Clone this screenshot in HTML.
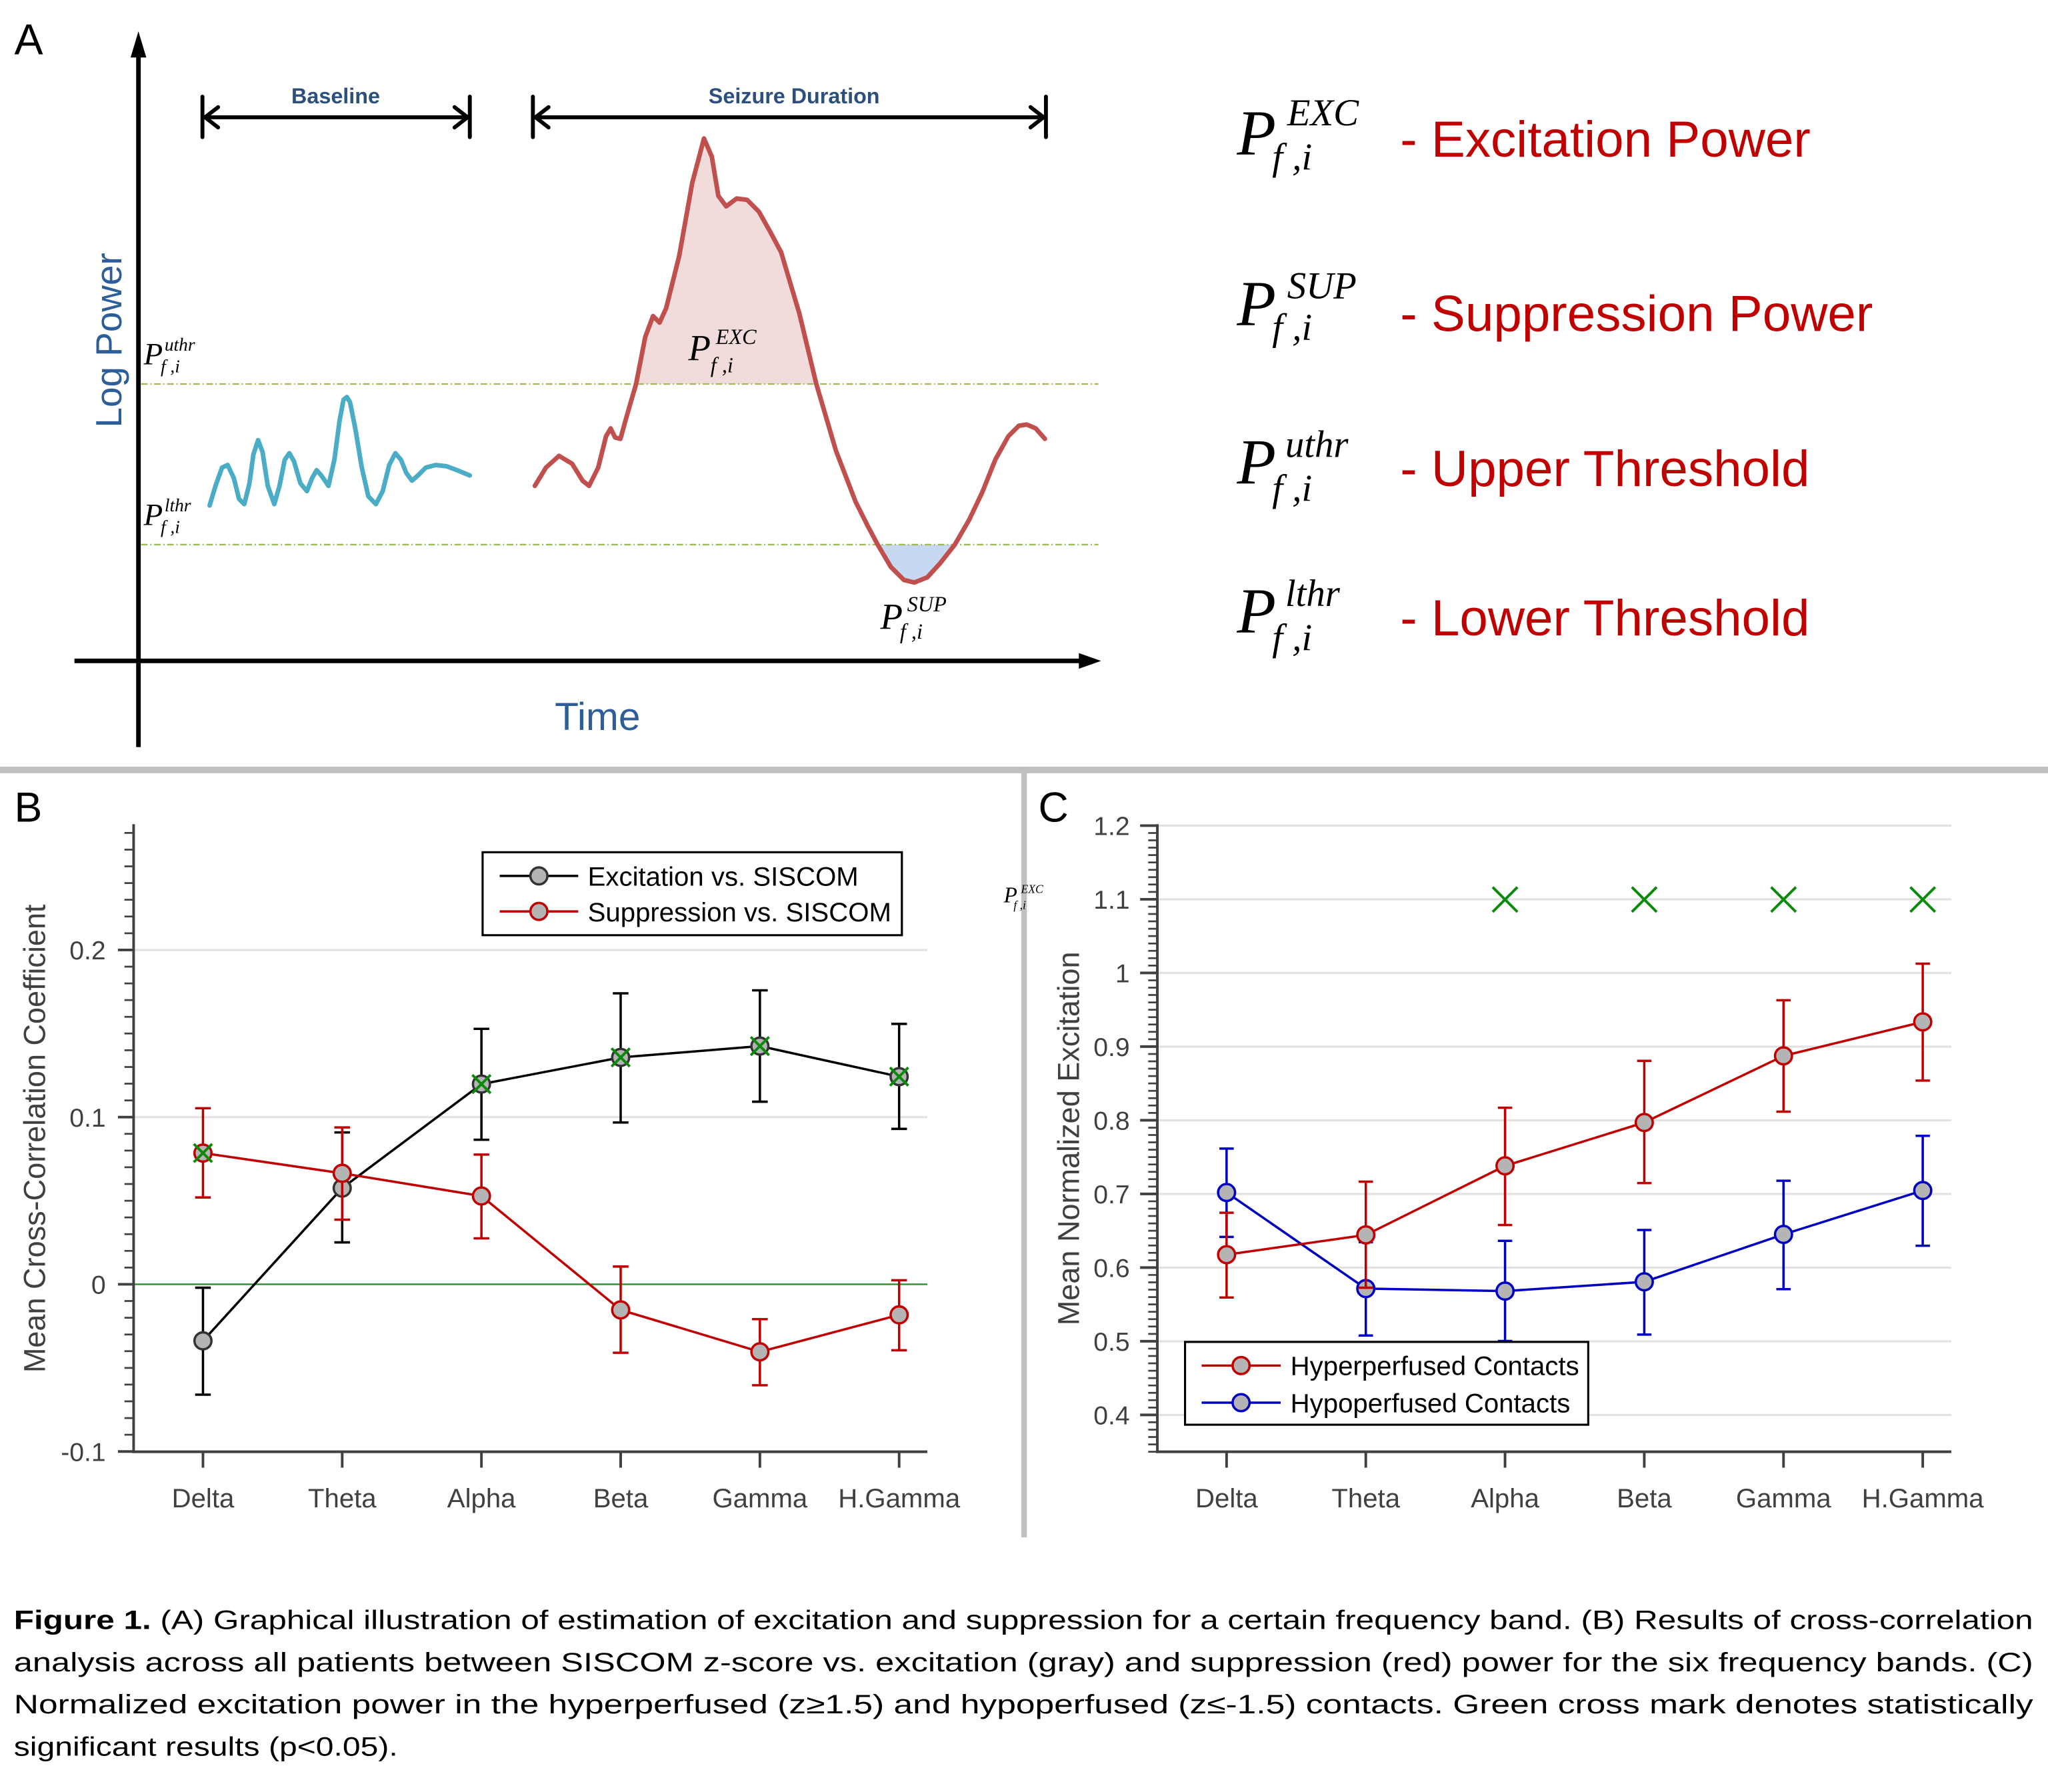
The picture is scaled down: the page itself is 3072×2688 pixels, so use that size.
<!DOCTYPE html>
<html><head><meta charset="utf-8"><style>html,body{margin:0;padding:0;background:#fff;overflow:hidden}svg{display:block}</style></head>
<body>
<svg width="3072" height="2688" viewBox="0 0 1568 1372" xmlns="http://www.w3.org/2000/svg" font-family="'Liberation Sans', Arial, sans-serif">
<rect x="0" y="0" width="1568" height="1372" fill="#fff"/>

<!-- ============ PANEL A ============ -->
<text x="11" y="41.5" font-size="33" fill="#000">A</text>

<!-- fills -->
<polygon points="487,294 494,258 500,242 505,247 510,236 520,196 530,140 539,106 545,120 550,150 556,158 564,152 572,153 581,162 590,178 598,193 612,240 625,294" fill="#f2dcdb"/>
<polygon points="672,417 682,434 692,444 700,446 710,442 720,431 731,417" fill="#c6d9f1"/>

<!-- threshold lines -->
<line x1="108" y1="294" x2="841" y2="294" stroke="#9bbb59" stroke-width="1.2" stroke-dasharray="5 2 1 2"/>
<line x1="108" y1="417" x2="841" y2="417" stroke="#9bbb59" stroke-width="1.2" stroke-dasharray="5 2 1 2"/>

<!-- axes -->
<line x1="106" y1="38" x2="106" y2="572" stroke="#000" stroke-width="3.5"/>
<polygon points="100,44 106,24 112,44" fill="#000"/>
<line x1="57" y1="506" x2="830" y2="506" stroke="#000" stroke-width="3.5"/>
<polygon points="826,500 843,506 826,512" fill="#000"/>

<!-- brackets -->
<g stroke="#000" stroke-width="3" fill="none" stroke-linecap="round">
  <line x1="155" y1="74" x2="155" y2="105"/>
  <line x1="359.7" y1="74" x2="359.7" y2="105"/>
  <line x1="157" y1="89.8" x2="358" y2="89.8"/>
  <polyline points="167,82 157,89.8 167,97.6"/>
  <polyline points="348,82 358,89.8 348,97.6"/>
  <line x1="408" y1="74" x2="408" y2="105"/>
  <line x1="800.8" y1="74" x2="800.8" y2="105"/>
  <line x1="410" y1="89.8" x2="799" y2="89.8"/>
  <polyline points="420,82 410,89.8 420,97.6"/>
  <polyline points="789,82 799,89.8 789,97.6"/>
</g>
<text x="257" y="79" font-size="16.5" font-weight="bold" fill="#2c4f7c" text-anchor="middle">Baseline</text>
<text x="608" y="79" font-size="16.5" font-weight="bold" fill="#2c4f7c" text-anchor="middle">Seizure Duration</text>

<!-- curves -->
<polyline fill="none" stroke="#4bacc6" stroke-width="3.5" stroke-linejoin="round" stroke-linecap="round"
 points="160.5,387 165,372 170,358 174.3,356 179,366 183,382 187,386 191,370 194,348 197.6,337 201,346 205,372 210,386 214,372 218,352 221.5,347 225,353 230,370 235,376 239,366 242.4,360 246,364 251.5,372 256,352 260,322 263,306 265.6,304 268,308 272,328 277,358 282,380 287.8,386 293,376 298,356 302.7,347 307,352 311,362 315.4,368 320,364 326,358 333.7,356 342,357 350,360 359.7,364"/>
<polyline fill="none" stroke="#c0504d" stroke-width="3.5" stroke-linejoin="round" stroke-linecap="round"
 points="409.5,372 418,358 428,349 438,355 446,368 451,372 458,358 464,334 467.5,328 471,335 475,336 480,318 487,294 494,258 500,242 505,247 510,236 520,196 530,140 539,106 545,120 550,150 556,158 564,152 572,153 581,162 590,178 598,193 612,240 625,294 640,345 655,384 664,402 672,417 682,434 692,444 700,446 710,442 720,431 731,417 742,398 752,377 762,352 772,334 780,326 786,325 793,328 800,336"/>

<!-- axis labels A -->
<text transform="translate(93,260.5) rotate(-90)" font-size="28" fill="#2e5e9a" text-anchor="middle">Log Power</text>
<text x="457.5" y="559" font-size="30" fill="#2e5e9a" text-anchor="middle">Time</text>

<!-- small P labels -->
<g font-family="'Liberation Serif', 'Times New Roman', serif" font-style="italic" fill="#000">
  <text x="110" y="279" font-size="24">P</text>
  <text x="126" y="268.5" font-size="14">uthr</text>
  <text x="123" y="285" font-size="14">f ,i</text>
  <text x="110" y="402" font-size="24">P</text>
  <text x="126" y="391.5" font-size="14">lthr</text>
  <text x="123" y="408" font-size="14">f ,i</text>
  <text x="527" y="275.6" font-size="28">P</text>
  <text x="548" y="263.5" font-size="16.5">EXC</text>
  <text x="544" y="285" font-size="16.5">f ,i</text>
  <text x="674" y="481.3" font-size="28">P</text>
  <text x="694.5" y="468" font-size="16.5">SUP</text>
  <text x="689" y="489" font-size="16.5">f ,i</text>
</g>

<!-- right legend A -->
<g font-family="'Liberation Serif', 'Times New Roman', serif" font-style="italic" fill="#000">
  <text x="947" y="118.5" font-size="49">P</text>
  <text x="985.5" y="96" font-size="29">EXC</text>
  <text x="974" y="130" font-size="29">f ,i</text>
  <text x="947" y="249" font-size="49">P</text>
  <text x="985.5" y="228.3" font-size="29">SUP</text>
  <text x="974" y="260.4" font-size="29">f ,i</text>
  <text x="947" y="370.4" font-size="49">P</text>
  <text x="984" y="349.9" font-size="29">uthr</text>
  <text x="974" y="383.7" font-size="29">f ,i</text>
  <text x="947" y="484.5" font-size="49">P</text>
  <text x="984" y="464" font-size="29">lthr</text>
  <text x="974" y="497.9" font-size="29">f ,i</text>
</g>
<g font-size="39" fill="#c00000">
  <text x="1072" y="120">- Excitation Power</text>
  <text x="1072" y="253.5">- Suppression Power</text>
  <text x="1072" y="372">- Upper Threshold</text>
  <text x="1072" y="486.5">- Lower Threshold</text>
</g>

<!-- separators -->
<rect x="0" y="587" width="1568" height="5" fill="#c0c0c0"/>
<rect x="781.9" y="590" width="4.3" height="587" fill="#c0c0c0"/>

<!-- stray small label (on top of separator) -->
<g font-family="'Liberation Serif', 'Times New Roman', serif" font-style="italic" fill="#000">
  <text x="768.5" y="690.8" font-size="17">P</text>
  <text x="781.7" y="683.6" font-size="9">EXC</text>
  <text x="776" y="696" font-size="9">f ,i</text>
</g>

<!-- ============ PANEL B ============ -->
<text x="11" y="629" font-size="32" fill="#000">B</text>
<g stroke="#e2e2e2" stroke-width="1.6">
  <line x1="102.3" y1="727.3" x2="710" y2="727.3"/>
  <line x1="102.3" y1="855.3" x2="710" y2="855.3"/>
</g>
<line x1="102.3" y1="983.3" x2="710" y2="983.3" stroke="#2a8f2a" stroke-width="1.2"/>
<!-- axes B -->
<g stroke="#404040" stroke-width="2" fill="none">
  <line x1="102.3" y1="631" x2="102.3" y2="1112.5"/>
  <line x1="101.3" y1="1111.5" x2="710" y2="1111.5"/>
  <line x1="90.3" y1="727.3" x2="102.3" y2="727.3"/>
  <line x1="90.3" y1="855.3" x2="102.3" y2="855.3"/>
  <line x1="90.3" y1="983.3" x2="102.3" y2="983.3"/>
  <line x1="90.3" y1="1111.3" x2="102.3" y2="1111.3"/>
  <line x1="155.4" y1="1111.5" x2="155.4" y2="1123.7"/>
  <line x1="262" y1="1111.5" x2="262" y2="1123.7"/>
  <line x1="368.6" y1="1111.5" x2="368.6" y2="1123.7"/>
  <line x1="475.2" y1="1111.5" x2="475.2" y2="1123.7"/>
  <line x1="581.8" y1="1111.5" x2="581.8" y2="1123.7"/>
  <line x1="688.4" y1="1111.5" x2="688.4" y2="1123.7"/>
</g>
<line x1="98.8" y1="1112" x2="98.8" y2="631" stroke="#404040" stroke-width="7" stroke-dasharray="1.4 11.4"/>
<g font-size="20" fill="#404040" text-anchor="end">
  <text x="81" y="734.5">0.2</text>
  <text x="81" y="862.5">0.1</text>
  <text x="81" y="990.5">0</text>
  <text x="81" y="1118.5">-0.1</text>
</g>
<g font-size="20.5" fill="#404040" text-anchor="middle">
  <text x="155.4" y="1154">Delta</text>
  <text x="262" y="1154">Theta</text>
  <text x="368.6" y="1154">Alpha</text>
  <text x="475.2" y="1154">Beta</text>
  <text x="581.8" y="1154">Gamma</text>
  <text x="688.4" y="1154">H.Gamma</text>
</g>
<text transform="translate(34.5,871.7) rotate(-90)" font-size="23" fill="#404040" text-anchor="middle">Mean Cross-Correlation Coefficient</text>

<!-- excitation series -->
<g stroke="#000" stroke-width="1.8" fill="none">
  <polyline points="155.4,1026.6 262,909.6 368.6,830 475.2,809.6 581.8,800.9 688.4,824.3"/>
  <path d="M155.4,985.9V1067.8M149.4,985.9H161.4M149.4,1067.8H161.4"/>
  <path d="M262,867V951.2M256,867H268M256,951.2H268"/>
  <path d="M368.6,787.7V872.6M362.6,787.7H374.6M362.6,872.6H374.6"/>
  <path d="M475.2,760.5V859.4M469.2,760.5H481.2M469.2,859.4H481.2"/>
  <path d="M581.8,758.2V843.5M575.8,758.2H587.8M575.8,843.5H587.8"/>
  <path d="M688.4,783.9V864.3M682.4,783.9H694.4M682.4,864.3H694.4"/>
</g>
<g fill="#b4b4b4" stroke="#333" stroke-width="1.8">
  <circle cx="155.4" cy="1026.6" r="6.5"/><circle cx="262" cy="909.6" r="6.5"/><circle cx="368.6" cy="830" r="6.5"/>
  <circle cx="475.2" cy="809.6" r="6.5"/><circle cx="581.8" cy="800.9" r="6.5"/><circle cx="688.4" cy="824.3" r="6.5"/>
</g>
<!-- suppression series -->
<g stroke="#c00000" stroke-width="1.8" fill="none">
  <polyline points="155.4,882.8 262,898.3 368.6,915.7 475.2,1002.9 581.8,1035 688.4,1006.7"/>
  <path d="M155.4,848.5V916.8M149.4,848.5H161.4M149.4,916.8H161.4"/>
  <path d="M262,863.2V933.8M256,863.2H268M256,933.8H268"/>
  <path d="M368.6,884V948.1M362.6,884H374.6M362.6,948.1H374.6"/>
  <path d="M475.2,969.7V1035.7M469.2,969.7H481.2M469.2,1035.7H481.2"/>
  <path d="M581.8,1010V1060.6M575.8,1010H587.8M575.8,1060.6H587.8"/>
  <path d="M688.4,980.2V1033.8M682.4,980.2H694.4M682.4,1033.8H694.4"/>
</g>
<g fill="#b4b4b4" stroke="#c00000" stroke-width="1.8">
  <circle cx="155.4" cy="882.8" r="6.5"/><circle cx="262" cy="898.3" r="6.5"/><circle cx="368.6" cy="915.7" r="6.5"/>
  <circle cx="475.2" cy="1002.9" r="6.5"/><circle cx="581.8" cy="1035" r="6.5"/><circle cx="688.4" cy="1006.7" r="6.5"/>
</g>
<!-- green crosses B -->
<g stroke="#0a8a0a" stroke-width="2" fill="none">
  <path d="M148.4,875.8L162.4,889.8M148.4,889.8L162.4,875.8"/>
  <path d="M361.6,823L375.6,837M361.6,837L375.6,823"/>
  <path d="M468.2,802.6L482.2,816.6M468.2,816.6L482.2,802.6"/>
  <path d="M574.8,793.9L588.8,807.9M574.8,807.9L588.8,793.9"/>
  <path d="M681.4,817.3L695.4,831.3M681.4,831.3L695.4,817.3"/>
</g>
<!-- legend B -->
<rect x="369.5" y="652.5" width="321" height="63.5" fill="#fff" stroke="#000" stroke-width="1.6"/>
<line x1="382.6" y1="670.6" x2="442.7" y2="670.6" stroke="#000" stroke-width="1.8"/>
<circle cx="412.6" cy="670.6" r="6.5" fill="#b4b4b4" stroke="#333" stroke-width="1.8"/>
<line x1="382.6" y1="697.8" x2="442.7" y2="697.8" stroke="#c00000" stroke-width="1.8"/>
<circle cx="412.6" cy="697.8" r="6.5" fill="#b4b4b4" stroke="#c00000" stroke-width="1.8"/>
<text x="450" y="678" font-size="20.5" fill="#000">Excitation vs. SISCOM</text>
<text x="450" y="705.3" font-size="20.5" fill="#000">Suppression vs. SISCOM</text>

<!-- ============ PANEL C ============ -->
<text x="795" y="629" font-size="32" fill="#000">C</text>
<g stroke="#e2e2e2" stroke-width="1.6">
  <line x1="886" y1="632.1" x2="1494" y2="632.1"/>
  <line x1="886" y1="688.5" x2="1494" y2="688.5"/>
  <line x1="886" y1="744.9" x2="1494" y2="744.9"/>
  <line x1="886" y1="801.3" x2="1494" y2="801.3"/>
  <line x1="886" y1="857.7" x2="1494" y2="857.7"/>
  <line x1="886" y1="914.1" x2="1494" y2="914.1"/>
  <line x1="886" y1="970.5" x2="1494" y2="970.5"/>
  <line x1="886" y1="1026.9" x2="1494" y2="1026.9"/>
  <line x1="886" y1="1083.3" x2="1494" y2="1083.3"/>
</g>
<g stroke="#404040" stroke-width="2" fill="none">
  <line x1="886.1" y1="631" x2="886.1" y2="1112.5"/>
  <line x1="885.1" y1="1111.5" x2="1494" y2="1111.5"/>
  <line x1="872.9" y1="632.1" x2="886" y2="632.1"/>
  <line x1="872.9" y1="688.5" x2="886" y2="688.5"/>
  <line x1="872.9" y1="744.9" x2="886" y2="744.9"/>
  <line x1="872.9" y1="801.3" x2="886" y2="801.3"/>
  <line x1="872.9" y1="857.7" x2="886" y2="857.7"/>
  <line x1="872.9" y1="914.1" x2="886" y2="914.1"/>
  <line x1="872.9" y1="970.5" x2="886" y2="970.5"/>
  <line x1="872.9" y1="1026.9" x2="886" y2="1026.9"/>
  <line x1="872.9" y1="1083.3" x2="886" y2="1083.3"/>
  <line x1="939.1" y1="1111.5" x2="939.1" y2="1123.7"/>
  <line x1="1045.7" y1="1111.5" x2="1045.7" y2="1123.7"/>
  <line x1="1152.3" y1="1111.5" x2="1152.3" y2="1123.7"/>
  <line x1="1258.9" y1="1111.5" x2="1258.9" y2="1123.7"/>
  <line x1="1365.5" y1="1111.5" x2="1365.5" y2="1123.7"/>
  <line x1="1472.1" y1="1111.5" x2="1472.1" y2="1123.7"/>
</g>
<line x1="882.6" y1="1112.2" x2="882.6" y2="631" stroke="#404040" stroke-width="7" stroke-dasharray="1.4 4.24"/>
<g font-size="20" fill="#404040" text-anchor="end">
  <text x="865" y="639.3">1.2</text>
  <text x="865" y="695.7">1.1</text>
  <text x="865" y="752.1">1</text>
  <text x="865" y="808.5">0.9</text>
  <text x="865" y="864.9">0.8</text>
  <text x="865" y="921.3">0.7</text>
  <text x="865" y="977.7">0.6</text>
  <text x="865" y="1034.1">0.5</text>
  <text x="865" y="1090.5">0.4</text>
</g>
<g font-size="20.5" fill="#404040" text-anchor="middle">
  <text x="939.1" y="1154">Delta</text>
  <text x="1045.7" y="1154">Theta</text>
  <text x="1152.3" y="1154">Alpha</text>
  <text x="1258.9" y="1154">Beta</text>
  <text x="1365.5" y="1154">Gamma</text>
  <text x="1472.1" y="1154">H.Gamma</text>
</g>
<text transform="translate(826,871.7) rotate(-90)" font-size="23" fill="#404040" text-anchor="middle">Mean Normalized Excitation</text>

<!-- hypoperfused (blue) -->
<g stroke="#0000c0" stroke-width="1.8" fill="none">
  <polyline points="939.1,913 1045.7,986.6 1152.3,988.5 1258.9,981.4 1365.5,945.1 1472.1,911.5"/>
  <path d="M939.1,879.4V947M933.6,879.4H944.6M933.6,947H944.6"/>
  <path d="M1045.7,951V1022.5M1040.2,951H1051.2M1040.2,1022.5H1051.2"/>
  <path d="M1152.3,950V1026.7M1146.8,950H1157.8M1146.8,1026.7H1157.8"/>
  <path d="M1258.9,941.7V1021.8M1253.4,941.7H1264.4M1253.4,1021.8H1264.4"/>
  <path d="M1365.5,904V987M1360,904H1371M1360,987H1371"/>
  <path d="M1472.1,869.6V953.8M1466.6,869.6H1477.6M1466.6,953.8H1477.6"/>
</g>
<g fill="#b4b4b4" stroke="#0000c0" stroke-width="1.8">
  <circle cx="939.1" cy="913" r="6.5"/><circle cx="1045.7" cy="986.6" r="6.5"/><circle cx="1152.3" cy="988.5" r="6.5"/>
  <circle cx="1258.9" cy="981.4" r="6.5"/><circle cx="1365.5" cy="945.1" r="6.5"/><circle cx="1472.1" cy="911.5" r="6.5"/>
</g>
<!-- hyperperfused (red) -->
<g stroke="#c00000" stroke-width="1.8" fill="none">
  <polyline points="939.1,960.6 1045.7,945.5 1152.3,892.6 1258.9,859.4 1365.5,808.4 1472.1,782.4"/>
  <path d="M939.1,928.5V993.4M933.6,928.5H944.6M933.6,993.4H944.6"/>
  <path d="M1045.7,904.7V985.9M1040.2,904.7H1051.2M1040.2,985.9H1051.2"/>
  <path d="M1152.3,848.1V937.9M1146.8,848.1H1157.8M1146.8,937.9H1157.8"/>
  <path d="M1258.9,812.2V905.8M1253.4,812.2H1264.4M1253.4,905.8H1264.4"/>
  <path d="M1365.5,765.8V851.1M1360,765.8H1371M1360,851.1H1371"/>
  <path d="M1472.1,737.8V827.3M1466.6,737.8H1477.6M1466.6,827.3H1477.6"/>
</g>
<g fill="#b4b4b4" stroke="#c00000" stroke-width="1.8">
  <circle cx="939.1" cy="960.6" r="6.5"/><circle cx="1045.7" cy="945.5" r="6.5"/><circle cx="1152.3" cy="892.6" r="6.5"/>
  <circle cx="1258.9" cy="859.4" r="6.5"/><circle cx="1365.5" cy="808.4" r="6.5"/><circle cx="1472.1" cy="782.4" r="6.5"/>
</g>
<!-- green crosses C -->
<g stroke="#0a8a0a" stroke-width="2" fill="none">
  <path d="M1142.8,679.2L1161.8,698.2M1142.8,698.2L1161.8,679.2"/>
  <path d="M1249.4,679.2L1268.4,698.2M1249.4,698.2L1268.4,679.2"/>
  <path d="M1356,679.2L1375,698.2M1356,698.2L1375,679.2"/>
  <path d="M1462.6,679.2L1481.6,698.2M1462.6,698.2L1481.6,679.2"/>
</g>
<!-- legend C -->
<rect x="907.3" y="1027.4" width="308.7" height="63.4" fill="#fff" stroke="#000" stroke-width="1.6"/>
<line x1="920" y1="1045.5" x2="980.5" y2="1045.5" stroke="#c00000" stroke-width="1.8"/>
<circle cx="950.2" cy="1045.5" r="6.5" fill="#b4b4b4" stroke="#c00000" stroke-width="1.8"/>
<line x1="920" y1="1073.9" x2="980.5" y2="1073.9" stroke="#0000c0" stroke-width="1.8"/>
<circle cx="950.2" cy="1073.9" r="6.5" fill="#b4b4b4" stroke="#0000c0" stroke-width="1.8"/>
<text x="988" y="1052.8" font-size="20.5" fill="#000">Hyperperfused Contacts</text>
<text x="988" y="1081.2" font-size="20.5" fill="#000">Hypoperfused Contacts</text>

<!-- ============ CAPTION ============ -->
<g font-size="20.5" fill="#000">
  <text x="10.6" y="1247.2" textLength="1546" lengthAdjust="spacingAndGlyphs"><tspan font-weight="bold">Figure 1.</tspan> (A) Graphical illustration of estimation of excitation and suppression for a certain frequency band. (B) Results of cross-correlation</text>
  <text x="10.6" y="1279.5" textLength="1546" lengthAdjust="spacingAndGlyphs">analysis across all patients between SISCOM z-score vs. excitation (gray) and suppression (red) power for the six frequency bands. (C)</text>
  <text x="10.6" y="1311.8" textLength="1546" lengthAdjust="spacingAndGlyphs">Normalized excitation power in the hyperperfused (z≥1.5) and hypoperfused (z≤-1.5) contacts. Green cross mark denotes statistically</text>
  <text x="10.6" y="1344.2" textLength="294" lengthAdjust="spacingAndGlyphs">significant results (p&lt;0.05).</text>
</g>
</svg>
</body></html>
